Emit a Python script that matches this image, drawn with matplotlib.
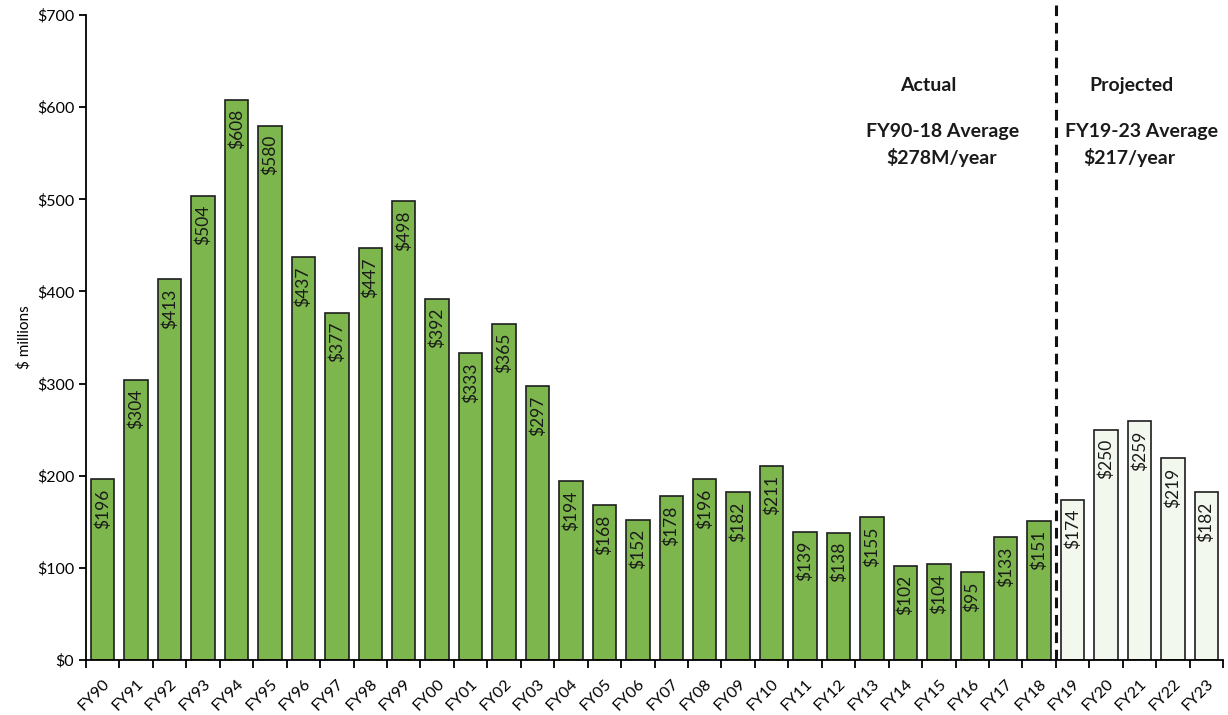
import matplotlib.pyplot as plt
import numpy as np

years = ["FY90", "FY91", "FY92", "FY93", "FY94", "FY95", "FY96", "FY97", "FY98", "FY99",
         "FY00", "FY01", "FY02", "FY03", "FY04", "FY05", "FY06", "FY07", "FY08", "FY09",
         "FY10", "FY11", "FY12", "FY13", "FY14", "FY15", "FY16", "FY17", "FY18",
         "FY19", "FY20", "FY21", "FY22", "FY23"]
values = [196, 304, 413, 504, 608, 580, 437, 377, 447, 498,
          392, 333, 365, 297, 194, 168, 152, 178, 196, 182,
          211, 139, 138, 155, 102, 104, 95, 133, 151,
          174, 250, 259, 219, 182]
n_actual = 29  # FY90-FY18 actual, rest projected

plt.rcParams['font.family'] = ['Lato', 'DejaVu Sans']

fig = plt.figure(figsize=(12.28, 7.15), dpi=100)
ax = fig.add_axes([0.070, 0.077, 0.926, 0.902])

x = np.arange(len(years))
colors = ["#7cb64c" if i < n_actual else "#f3f8ef" for i in range(len(years))]
ax.bar(x, values, width=0.7, color=colors, edgecolor="#1e1e1e", linewidth=1.2, zorder=2)

for xi, v in zip(x, values):
    ax.text(xi, v - 10, f"${v}", rotation=90, ha="center", va="top",
            fontsize=12.5, color="#1a1a1a", zorder=3)

ax.set_xlim(-0.5, len(years) - 0.5)
ax.set_ylim(0, 700)
ax.set_yticks(range(0, 701, 100))
ax.set_yticklabels([f"${v}" for v in range(0, 701, 100)], fontsize=11.5)
ax.set_ylabel("$ millions", fontsize=11)

ax.set_xticks(np.arange(-0.5, len(years)), minor=True)
ax.set_xticks(x)
ax.set_xticklabels(years, rotation=45, ha="right", rotation_mode="anchor", fontsize=11.5)
ax.tick_params(axis="x", which="major", length=0, pad=12)
ax.tick_params(axis="x", which="minor", length=6, width=1.3, direction="out")
ax.tick_params(axis="y", length=5, width=1.3)

for s in ["top", "right"]:
    ax.spines[s].set_visible(False)
ax.spines["left"].set_linewidth(1.3)
ax.spines["bottom"].set_linewidth(1.3)

ax.axvline(n_actual - 0.5, ymin=0, ymax=1.015, color="#111111", linestyle=(0, (3.5, 2.2)),
           linewidth=2.2, clip_on=False, zorder=4)

bold = dict(ha="center", va="center", fontsize=14, fontweight="bold", color="#1a1a1a")
ax.text(24.68, 623, "Actual", **bold)
ax.text(25.1, 574, "FY90-18 Average", **bold)
ax.text(25.07, 545, "$278M/year", **bold)
ax.text(30.75, 623, "Projected", **bold)
ax.text(31.05, 574, "FY19-23 Average", **bold)
ax.text(30.69, 545, "$217/year", **bold)

fig.savefig("out.png", dpi=100, facecolor="white")
